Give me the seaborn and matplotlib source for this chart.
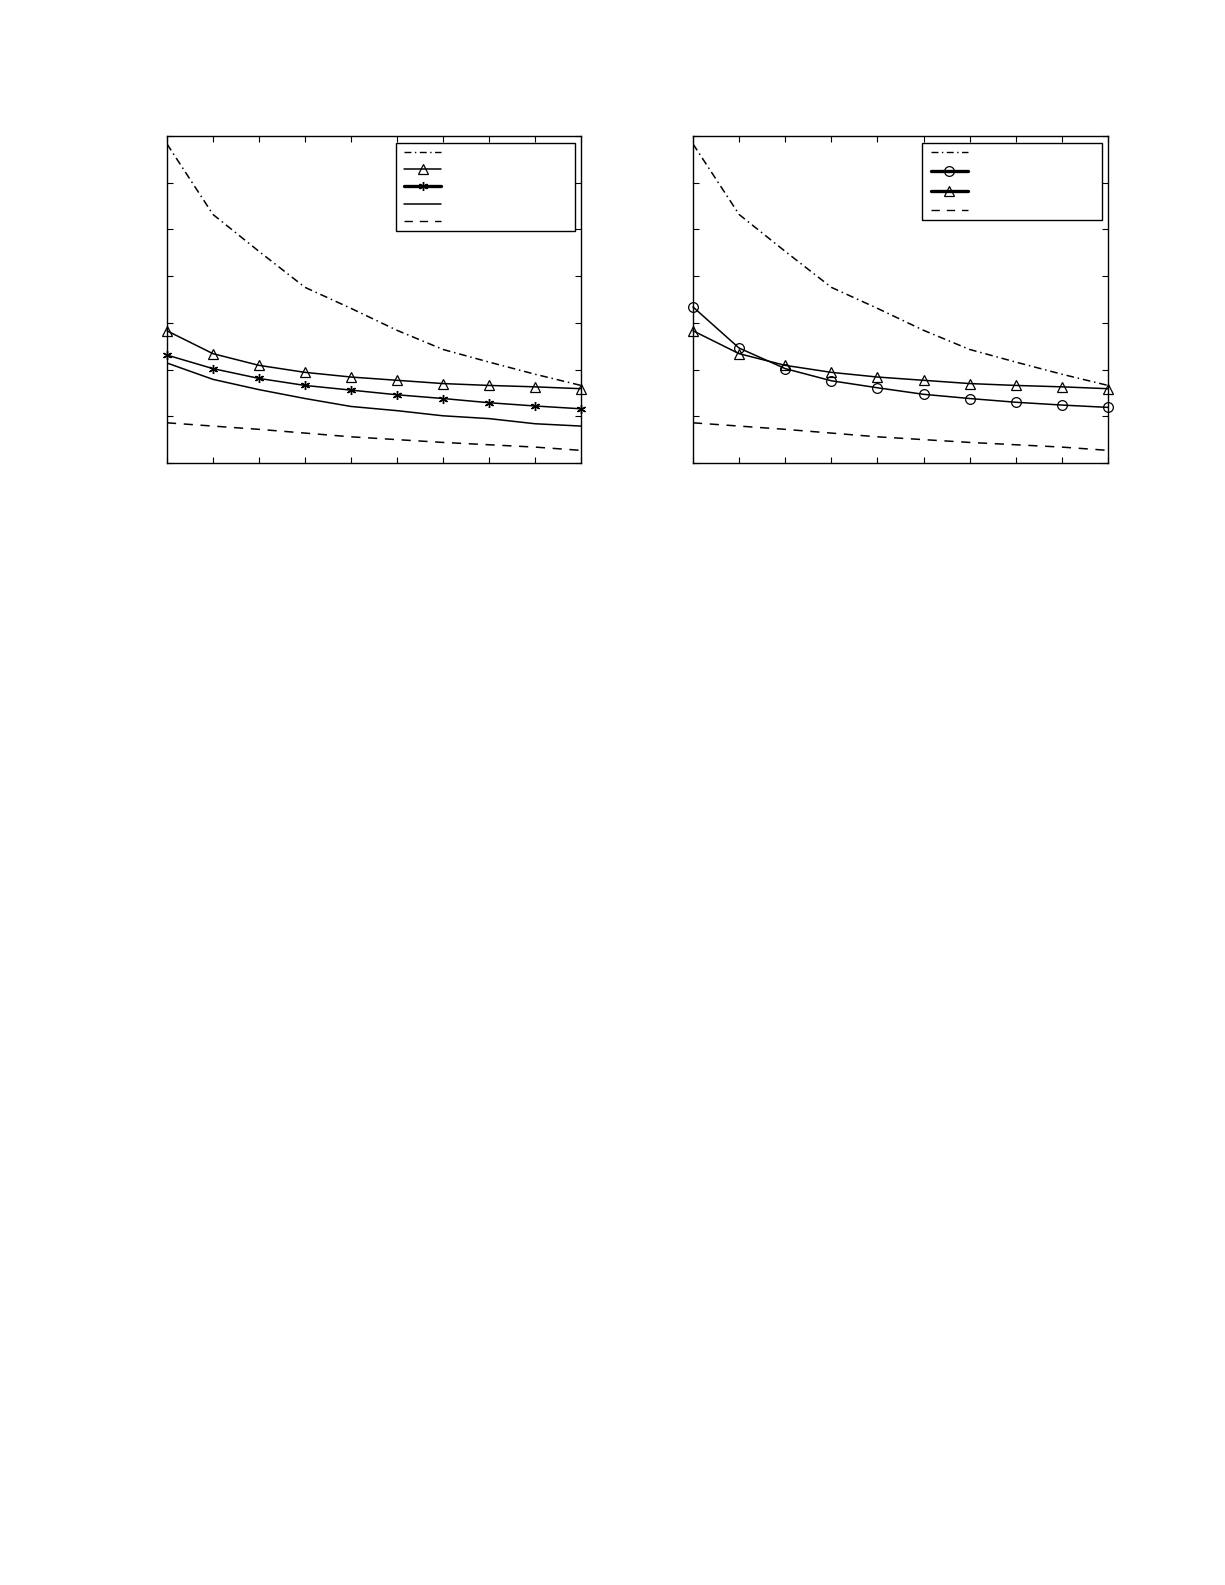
"""
Two panels of decreasing curves, MATLAB style, no text
"""

import matplotlib
matplotlib.use("Agg")
import matplotlib.pyplot as plt
from matplotlib.lines import Line2D
from matplotlib.legend_handler import HandlerLine2D
import seaborn as sns

x_steps = list(range(10))

# shared curves
upper_dashdot = [6.83, 5.32, 4.53, 3.76, 3.31, 2.84, 2.43, 2.16, 1.90, 1.66]
lower_dashed = [0.86, 0.79, 0.72, 0.64, 0.56, 0.50, 0.44, 0.39, 0.34, 0.27]
triangle_curve = [2.83, 2.34, 2.09, 1.94, 1.84, 1.77, 1.70, 1.66, 1.63, 1.59]

# left panel only
star_curve = [2.31, 2.02, 1.81, 1.66, 1.56, 1.46, 1.38, 1.29, 1.22, 1.16]
solid_curve = [2.14, 1.79, 1.57, 1.38, 1.21, 1.12, 1.01, 0.95, 0.84, 0.79]

# right panel only
circle_curve = [3.34, 2.46, 2.02, 1.76, 1.61, 1.47, 1.38, 1.30, 1.24, 1.19]

y_ticks = list(range(8))

sns.set_style("ticks")
plt.rcParams["font.family"] = ["DejaVu Sans"]

fig = plt.figure(figsize=(12.25, 15.85), dpi=100)
ax_left = fig.add_axes([0.1363, 0.7079, 0.3380, 0.2063])
ax_right = fig.add_axes([0.5657, 0.7079, 0.3388, 0.2063])

k = "black"
dashdot = (0, (5, 2.5, 1, 2.5))
dashed = (0, (6, 5))
asterisk = (6, 2, 0)
tri = dict(marker="^", markersize=7.5, mfc="none", mec=k, mew=0.9)
circ = dict(marker="o", markersize=7, mfc="none", mec=k, mew=0.9)
star = dict(marker=asterisk, markersize=6.5, mec=k, mew=1.0)


def draw_line(ax, values, **kw):
    sns.lineplot(x=x_steps, y=values, ax=ax, color=k, lw=1.1, **kw)


def style_axes(ax):
    ax.set_xlim(0, 9)
    ax.set_ylim(0, 7)
    ax.set_xticks(x_steps)
    ax.set_yticks(y_ticks)
    ax.tick_params(direction="in", top=True, right=True, length=4, width=0.8,
                   labelbottom=False, labelleft=False, color=k)
    for s in ax.spines.values():
        s.set_visible(True)
        s.set_linewidth(1.0)
        s.set_color(k)
    ax.set_xlabel("")
    ax.set_ylabel("")
    # markers at the frame are not cut, lines stay inside
    for ln in ax.get_lines():
        if ln.get_marker() not in (None, "None", ""):
            ln.set_clip_on(False)


def add_legend(ax, handles, spacing):
    leg = ax.legend(handles=handles, labels=[""] * len(handles),
                    loc="upper left", bbox_to_anchor=(0.553, 0.9786, 0.432, 0),
                    mode="expand", borderaxespad=0, fontsize=6,
                    handlelength=4.85, borderpad=0.6, labelspacing=spacing,
                    numpoints=1, fancybox=False, framealpha=1,
                    edgecolor=k, handler_map={Line2D: HandlerLine2D(xpad=0.4)})
    leg.get_frame().set_linewidth(1.0)
    leg.set_zorder(5)


# left panel
draw_line(ax_left, upper_dashdot, linestyle=dashdot)
draw_line(ax_left, triangle_curve, **tri)
draw_line(ax_left, star_curve, **star)
draw_line(ax_left, solid_curve)
draw_line(ax_left, lower_dashed, linestyle=dashed)
style_axes(ax_left)

left_handles = [
    Line2D([], [], color=k, lw=1.0, linestyle=dashdot),
    Line2D([], [], color=k, lw=1.1, **tri),
    Line2D([], [], color=k, lw=2.4, **star),
    Line2D([], [], color=k, lw=1.1),
    Line2D([], [], color=k, lw=1.0, linestyle=dashed),
]
add_legend(ax_left, left_handles, 0.98)

# right panel
draw_line(ax_right, upper_dashdot, linestyle=dashdot)
draw_line(ax_right, circle_curve, **circ)
draw_line(ax_right, triangle_curve, **tri)
draw_line(ax_right, lower_dashed, linestyle=dashed)
style_axes(ax_right)

right_handles = [
    Line2D([], [], color=k, lw=1.0, linestyle=dashdot),
    Line2D([], [], color=k, lw=2.4, **circ),
    Line2D([], [], color=k, lw=2.4, **tri),
    Line2D([], [], color=k, lw=1.0, linestyle=dashed),
]
add_legend(ax_right, right_handles, 1.24)

fig.savefig("out.png", dpi=100)
